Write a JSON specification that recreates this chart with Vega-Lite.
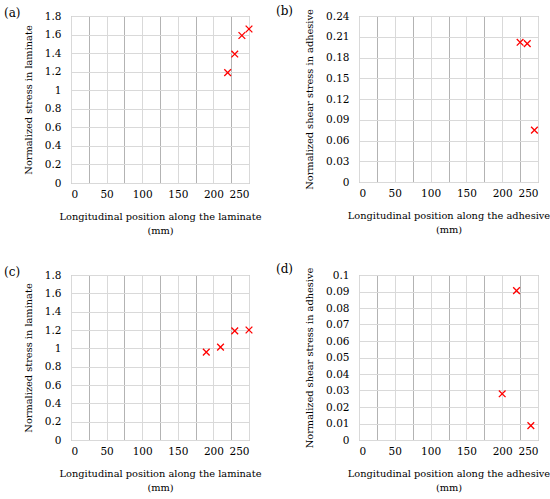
{
  "$schema": "https://vega.github.io/schema/vega-lite/v6.json",
  "background": "white",
  "padding": {"left": 3, "top": 4, "right": 5, "bottom": 5},
  "bounds": "flush",
  "spacing": {"row": 92, "column": 110},
  "columns": 2,
  "config": {
    "font": "DejaVu Serif",
    "view": {"stroke": "#a6a6a6", "strokeWidth": 1},
    "axis": {
      "domain": false,
      "ticks": false,
      "labelFont": "DejaVu Serif",
      "titleFont": "DejaVu Serif",
      "labelFontSize": 10.5,
      "titleFontSize": 9.8,
      "labelColor": "#000000",
      "titleColor": "#000000",
      "titleFontWeight": "normal",
      "gridColor": "#d9d9d9",
      "gridWidth": 1
    },
    "axisX": {"labelPadding": 6, "titlePadding": 12, "titleLineHeight": 14},
    "axisY": {"labelPadding": 10, "titlePadding": 11},
    "title": {"font": "DejaVu Serif", "fontSize": 12, "fontWeight": "normal", "anchor": "start", "frame": "group", "offset": -9, "color": "#000000"}
  },
  "datasets": {
    "a": [{"x": 220, "y": 1.19}, {"x": 230, "y": 1.39}, {"x": 240, "y": 1.59}, {"x": 250, "y": 1.66}],
    "b": [{"x": 225, "y": 0.202}, {"x": 235, "y": 0.2}, {"x": 245, "y": 0.075}],
    "c": [{"x": 190, "y": 0.958}, {"x": 210, "y": 1.013}, {"x": 230, "y": 1.19}, {"x": 250, "y": 1.2}],
    "d": [{"x": 200, "y": 0.028}, {"x": 220, "y": 0.0905}, {"x": 240, "y": 0.0087}]
  },
  "concat": [
    {
      "width": 178, "height": 167,
      "title": {"text": "(a)", "dx": -67},
      "data": {"name": "a"},
      "mark": {"type": "point", "shape": "M-1,-1L1,1M-1,1L1,-1", "filled": false, "stroke": "#ff0000", "strokeWidth": 1.3, "size": 45, "opacity": 1},
      "encoding": {
        "x": {"field": "x", "type": "quantitative", "scale": {"domain": [0, 250], "nice": false},
          "axis": {"values": [0, 25, 50, 75, 100, 125, 150, 175, 200, 225, 250], "labelExpr": "datum.value % 50 === 0 ? datum.label : ''",
            "gridColor": {"condition": {"test": "datum.value % 50 === 25", "value": "#b3b3b3"}, "value": "#d9d9d9"},
            "title": ["Longitudinal position along the laminate", "(mm)"]}},
        "y": {"field": "y", "type": "quantitative", "scale": {"domain": [0, 1.8], "nice": false},
          "axis": {"values": [0, 0.2, 0.4, 0.6, 0.8, 1, 1.2, 1.4, 1.6, 1.8], "format": ".1~f", "title": "Normalized stress in laminate"}}
      }
    },
    {
      "width": 179, "height": 166,
      "title": {"text": "(b)", "dx": -83},
      "data": {"name": "b"},
      "mark": {"type": "point", "shape": "M-1,-1L1,1M-1,1L1,-1", "filled": false, "stroke": "#ff0000", "strokeWidth": 1.3, "size": 45, "opacity": 1},
      "encoding": {
        "x": {"field": "x", "type": "quantitative", "scale": {"domain": [0, 250], "nice": false},
          "axis": {"values": [0, 25, 50, 75, 100, 125, 150, 175, 200, 225, 250], "labelExpr": "datum.value % 50 === 0 ? datum.label : ''",
            "gridColor": {"condition": {"test": "datum.value % 50 === 25", "value": "#b3b3b3"}, "value": "#d9d9d9"},
            "title": ["Longitudinal position along the adhesive", "(mm)"]}},
        "y": {"field": "y", "type": "quantitative", "scale": {"domain": [0, 0.24], "nice": false},
          "axis": {"values": [0, 0.03, 0.06, 0.09, 0.12, 0.15, 0.18, 0.21, 0.24], "format": ".2~f", "title": "Normalized shear stress in adhesive"}}
      }
    },
    {
      "width": 178, "height": 165,
      "title": {"text": "(c)", "dx": -67},
      "data": {"name": "c"},
      "mark": {"type": "point", "shape": "M-1,-1L1,1M-1,1L1,-1", "filled": false, "stroke": "#ff0000", "strokeWidth": 1.3, "size": 45, "opacity": 1},
      "encoding": {
        "x": {"field": "x", "type": "quantitative", "scale": {"domain": [0, 250], "nice": false},
          "axis": {"values": [0, 25, 50, 75, 100, 125, 150, 175, 200, 225, 250], "labelExpr": "datum.value % 50 === 0 ? datum.label : ''",
            "gridColor": {"condition": {"test": "datum.value % 50 === 25", "value": "#b3b3b3"}, "value": "#d9d9d9"},
            "title": ["Longitudinal position along the laminate", "(mm)"]}},
        "y": {"field": "y", "type": "quantitative", "scale": {"domain": [0, 1.8], "nice": false},
          "axis": {"values": [0, 0.2, 0.4, 0.6, 0.8, 1, 1.2, 1.4, 1.6, 1.8], "format": ".1~f", "title": "Normalized stress in laminate"}}
      }
    },
    {
      "width": 179, "height": 165,
      "title": {"text": "(d)", "dx": -83},
      "data": {"name": "d"},
      "mark": {"type": "point", "shape": "M-1,-1L1,1M-1,1L1,-1", "filled": false, "stroke": "#ff0000", "strokeWidth": 1.3, "size": 45, "opacity": 1},
      "encoding": {
        "x": {"field": "x", "type": "quantitative", "scale": {"domain": [0, 250], "nice": false},
          "axis": {"values": [0, 25, 50, 75, 100, 125, 150, 175, 200, 225, 250], "labelExpr": "datum.value % 50 === 0 ? datum.label : ''",
            "gridColor": {"condition": {"test": "datum.value % 50 === 25", "value": "#b3b3b3"}, "value": "#d9d9d9"},
            "title": ["Longitudinal position along the adhesive", "(mm)"]}},
        "y": {"field": "y", "type": "quantitative", "scale": {"domain": [0, 0.1], "nice": false},
          "axis": {"values": [0, 0.01, 0.02, 0.03, 0.04, 0.05, 0.06, 0.07, 0.08, 0.09, 0.1], "format": ".2~f", "title": "Normalized shear stress in adhesive"}}
      }
    }
  ]
}
